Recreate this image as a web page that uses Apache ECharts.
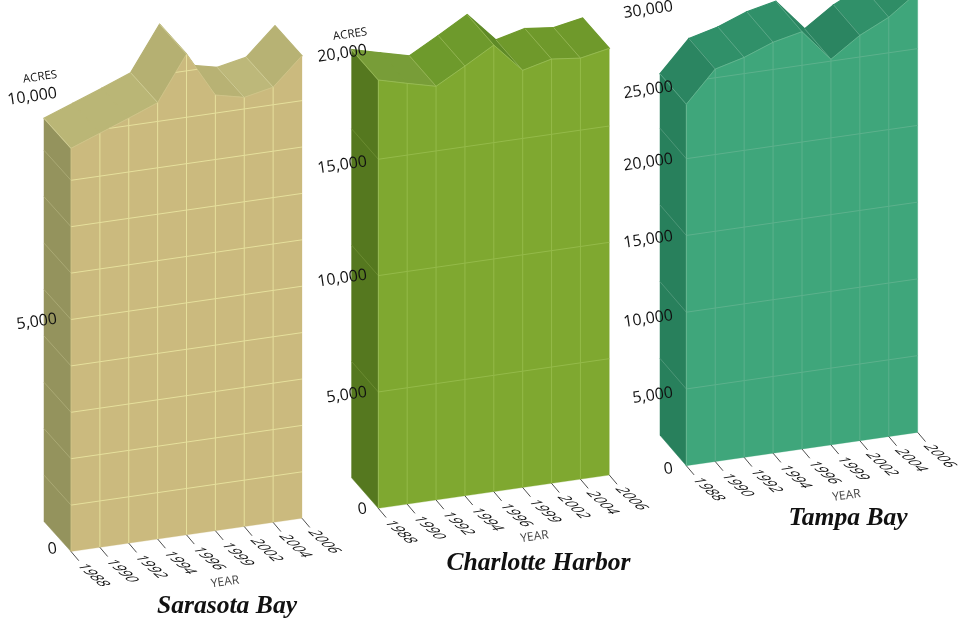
<!DOCTYPE html>
<html>
<head>
<meta charset="utf-8">
<title>Seagrass acreage by estuary</title>
<script src="https://cdn.jsdelivr.net/npm/echarts@6/dist/echarts.min.js"></script>
<style>html,body{margin:0;background:#fff}#chart{width:968px;height:619px}</style>
</head>
<body>
<div id="chart"></div>
<script>
// Acreage series, one value per survey year
const years = ['1988', '1990', '1992', '1994', '1996', '1999', '2002', '2004', '2006'];
const sarasotaAcres = [8690, 8925, 9160, 9405, 10360, 9390, 9250, 9380, 9970];
const charlotteAcres = [18406, 18083, 17778, 18470, 19192, 17928, 18234, 18096, 18337];
const tampaAcres = [23544, 25570, 26059, 26775, 27192, 25120, 26410, 27316, 28690];

// Value axis ticks that carry a label
const sarasotaTicks = [0, 5000, 10000];
const charlotteTicks = [0, 5000, 10000, 15000, 20000];
const tampaTicks = [0, 5000, 10000, 15000, 20000, 25000, 30000];

// Ruled lines across the faces
const sarasotaRules = [1000, 2000, 3000, 4000, 5000, 6000, 7000, 8000, 9000, 10000];
const charlotteRules = [5000, 10000, 15000, 20000];
const tampaRules = [5000, 10000, 15000, 20000, 25000, 30000];

const FONT = '"Open Sans", sans-serif';
const SHEAR = 0.144;              // rise of the baseline per pixel of x
const INK = '#111';

const panels = [
  {
    name: 'Sarasota Bay', acres: sarasotaAcres, ticks: sarasotaTicks, rules: sarasotaRules,
    left: 71, bottom: 551.5, width: 231, pxPerAcre: 0.0464, axisMax: 11000,
    depth: [-27, -30], labelRight: 57, labelNudge: [-2.5, 2.2, 9], capGap: 22, yearGap: 52.7, yearAt: 225,
    front: '#cbba7e', side: '#94935d', rule: '#e6e09c', sideRule: '#aaa974', ridge: '#d3d09c', edge: '#d3c88e',
    tops: ['#bab676', '#bab676', '#bab676', '#b5b072', '#b5b072', '#b8b274', '#bdb87a', '#b7b274'],
    titleX: 227, titleY: 606
  },
  {
    name: 'Charlotte Harbor', acres: charlotteAcres, ticks: charlotteTicks, rules: charlotteRules,
    left: 378.3, bottom: 508.3, width: 231, pxPerAcre: 0.02327, axisMax: 20000,
    depth: [-26.7, -30.5], labelRight: 367, labelNudge: [1, 3, 2.5, 5.7, 10.5], capGap: 21.5, yearGap: 51, yearAt: 534.5,
    front: '#7fa830', side: '#55781f', rule: '#94ba49', sideRule: '#6a8b30', ridge: '#9aba5c', edge: '#a2c462',
    tops: ['#789d38', '#789d38', '#6e9a2c', '#6e9a2c', '#5f8a27', '#6f992b', '#6f992b', '#6f992b'],
    titleX: 538.5, titleY: 563.7
  },
  {
    name: 'Tampa Bay', acres: tampaAcres, ticks: tampaTicks, rules: tampaRules,
    left: 686.3, bottom: 465.7, width: 231.4, pxPerAcre: 0.01535, axisMax: 30000,
    depth: [-26.3, -30.5], labelRight: 673, labelNudge: [3.3, 6.5, 6.5, 4, 3.5, 8, 4.5], capGap: 18, yearGap: 53, yearAt: 846.5,
    front: '#3fa67b', side: '#28805c', rule: '#5cb18c', sideRule: '#4c9677', ridge: '#66ad8f', edge: '#72bd9a',
    tops: ['#2b8561', '#309069', '#309069', '#309069', '#2b8561', '#2b8561', '#309069', '#2f8d66'],
    titleX: 848, titleY: 518.7
  }
];

// Screen point for a year index and acreage, sheared along the baseline and
// optionally pushed back along the depth direction.
function projector(api, panel) {
  const originX = api.coord([0, 0])[0];
  return function (i, v, back) {
    const c = api.coord([i, v]);
    const p = [c[0], c[1] - SHEAR * (c[0] - originX)];
    return back ? [p[0] + panel.depth[0], p[1] + panel.depth[1]] : p;
  };
}

const segment = (a, b, color, width, z2) => ({
  type: 'line', silent: true, z2: z2 || 0,
  shape: { x1: a[0], y1: a[1], x2: b[0], y2: b[1] },
  style: { stroke: color, lineWidth: width }
});

const lerp = (a, b, t) => [a[0] + (b[0] - a[0]) * t, a[1] + (b[1] - a[1]) * t];

// Left end wall with its ruled lines
function renderSide(panel) {
  return function (params, api) {
    const at = projector(api, panel);
    const v0 = panel.acres[0];
    const children = [{
      type: 'polygon',
      shape: { points: [at(0, 0), at(0, v0), at(0, v0, true), at(0, 0, true)] },
      style: { fill: panel.side, stroke: panel.side, lineWidth: 0.5 }
    }];
    panel.rules.filter(v => v < v0).forEach(v => {
      children.push(segment(at(0, v), at(0, v, true), panel.sideRule, 1));
    });
    return { type: 'group', children };
  };
}

// One sloped roof facet per interval; nearer (left) facets paint over later ones.
// The crease at a facet's left end is lifted over the neighbouring facet's outline.
function renderTop(panel) {
  return function (params, api) {
    const i = api.value(0);
    if (i >= panel.acres.length - 1) return null;
    const at = projector(api, panel);
    const a = panel.acres;
    const z = 100 - i * 2;
    const fill = panel.tops[i];
    const children = [{
      type: 'polygon', z2: z,
      shape: { points: [at(i, a[i]), at(i + 1, a[i + 1]), at(i + 1, a[i + 1], true), at(i, a[i], true)] },
      style: { fill, stroke: fill, lineWidth: 1.2 }
    }];
    const bend = i === 0 ? Infinity
      : Math.abs((at(i + 1, a[i + 1])[1] - at(i, a[i])[1]) - (at(i, a[i])[1] - at(i - 1, a[i - 1])[1]));
    if (bend > 0.6) {
      children.push(segment(at(i, a[i]), at(i, a[i], true), panel.ridge, 0.8, z + 3));
    }
    return { type: 'group', children };
  };
}

// Front wall, its rules clipped to the skyline, and the baseline ticks
function renderFront(panel) {
  return function (params, api) {
    if (params.dataIndex !== 0) return null;
    const at = projector(api, panel);
    const a = panel.acres;
    const last = a.length - 1;
    const skyline = a.map((v, i) => at(i, v));
    const children = [{
      type: 'polygon',
      shape: { points: [at(0, 0)].concat(skyline, [at(last, 0)]) },
      style: { fill: panel.front, stroke: panel.front, lineWidth: 0.3 }
    }];
    for (let i = 1; i < last; i++) {
      children.push(segment(at(i, 0), at(i, a[i]), panel.rule, 1));
    }
    panel.rules.forEach(v => {
      for (let i = 0; i < last; i++) {
        const hi0 = a[i] >= v, hi1 = a[i + 1] >= v;
        if (!hi0 && !hi1) continue;
        const l = at(i, v), r = at(i + 1, v);
        const t = (v - a[i]) / (a[i + 1] - a[i]);
        children.push(segment(hi0 ? l : lerp(l, r, t), hi1 ? r : lerp(l, r, t), panel.rule, 1));
      }
    });
    for (let i = 0; i < last; i++) {
      children.push(segment(skyline[i], skyline[i + 1], panel.edge, 0.7));
    }
    children.push(segment(at(0, 0), skyline[0], panel.edge, 0.7));
    years.forEach((y, i) => {
      const b = at(i, 0);
      children.push(segment(b, [b[0] + 7.8, b[1] + 9.2], '#222', 0.8));
      // Year labels lie on the floor plane: baseline along the depth, stems along the front wall
      children.push({
        type: 'text', x: b[0] + 9.7, y: b[1] + 12.5, rotation: -42 * Math.PI / 180,
        skewX: -40 * Math.PI / 180, scaleY: 0.85,
        style: { text: y, fill: INK, font: '14.5px ' + FONT, align: 'left', verticalAlign: 'middle' }
      });
    });
    return { type: 'group', children };
  };
}

// Acreage scale, ACRES and YEAR captions
function renderScale(panel) {
  return function (params, api) {
    const at = projector(api, panel);
    const children = [];
    panel.ticks.forEach((v, k) => {
      const text = v.toLocaleString('en-US');
      children.push({
        type: 'text', x: panel.labelRight, y: at(0, v)[1] + panel.labelNudge[k] - 0.55 * text.length, rotation: SHEAR,
        style: { text, fill: INK, font: '16px ' + FONT, align: 'right', verticalAlign: 'middle' }
      });
    });
    const n = panel.ticks.length - 1;
    const capY = at(0, panel.ticks[n])[1] + panel.labelNudge[n] - panel.capGap;
    if (capY > 0) {
      children.push({
        type: 'text', x: panel.labelRight, y: capY, rotation: SHEAR,
        style: { text: 'ACRES', fill: INK, font: '11.5px ' + FONT, align: 'right', verticalAlign: 'middle' }
      });
    }
    const baseY = panel.bottom - SHEAR * (panel.yearAt - panel.left);
    children.push({
      type: 'text', x: panel.yearAt, y: baseY + panel.yearGap, rotation: SHEAR,
      style: { text: 'YEAR', fill: '#444', font: '12px ' + FONT, align: 'center', verticalAlign: 'middle' }
    });
    return { type: 'group', children };
  };
}

const grid = [], xAxis = [], yAxis = [], series = [], title = [];
panels.forEach((panel, n) => {
  const height = panel.axisMax * panel.pxPerAcre;
  grid.push({ left: panel.left, top: panel.bottom - height, width: panel.width, height });
  xAxis.push({ gridIndex: n, type: 'category', data: years, boundaryGap: false, show: false });
  yAxis.push({ gridIndex: n, type: 'value', min: 0, max: panel.axisMax, show: false });
  const points = panel.acres.map((v, i) => [i, v]);
  const layer = (name, renderItem, z, data) => ({
    type: 'custom', name, renderItem, z, silent: true, clip: false,
    xAxisIndex: n, yAxisIndex: n, data: data || points, encode: { x: 0, y: 1 }
  });
  series.push(
    layer(panel.name + ' side', renderSide(panel), 1, [points[0]]),
    layer(panel.name + ' top', renderTop(panel), 2),
    layer(panel.name, renderFront(panel), 3),
    layer(panel.name + ' scale', renderScale(panel), 4, [points[0]])
  );
  title.push({
    text: panel.name, left: panel.titleX, top: panel.titleY, padding: 0,
    textAlign: 'center', textVerticalAlign: 'middle',
    textStyle: { fontFamily: '"Liberation Serif", serif', fontStyle: 'italic', fontWeight: 'bold', fontSize: 25.6, color: '#111' }
  });
});

const chart = echarts.init(document.getElementById('chart'), null, { renderer: 'canvas' });
chart.setOption({ animation: false, backgroundColor: '#fff', title, grid, xAxis, yAxis, series });
</script>
</body>
</html>
